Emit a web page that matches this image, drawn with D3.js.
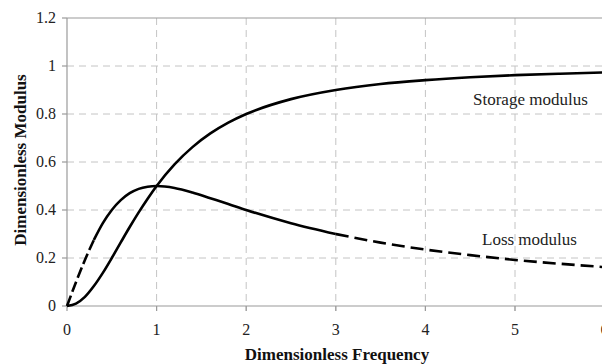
<!DOCTYPE html>
<html>
<head>
<meta charset="utf-8">
<script src="https://cdn.jsdelivr.net/npm/d3@7"></script>
<style>
  html, body { margin: 0; padding: 0; background: #fff; }
  svg { display: block; }
</style>
</head>
<body>
<svg id="chart" width="602" height="364"></svg>
<script>
// Dimensionless frequency samples and the two moduli read at each one
const frequency = [0, 0.1, 0.2, 0.3, 0.4, 0.5, 0.6, 0.7, 0.8, 0.9, 1, 1.2, 1.4, 1.6, 1.8, 2, 2.5, 3, 3.5, 4, 4.5, 5, 5.5, 6];
const storageModulus = [0, 0.01, 0.038, 0.083, 0.138, 0.2, 0.265, 0.329, 0.39, 0.447, 0.5, 0.59, 0.662, 0.719, 0.764, 0.8, 0.862, 0.9, 0.925, 0.941, 0.953, 0.962, 0.968, 0.973];
const lossModulus = [0, 0.099, 0.192, 0.275, 0.345, 0.4, 0.441, 0.47, 0.488, 0.497, 0.5, 0.492, 0.473, 0.449, 0.425, 0.4, 0.345, 0.3, 0.264, 0.235, 0.212, 0.192, 0.176, 0.162];

const xTicks = [0, 1, 2, 3, 4, 5, 6];
const yTicks = [0, 0.2, 0.4, 0.6, 0.8, 1, 1.2];
const yTickLabels = ["0", "0.2", "0.4", "0.6", "0.8", "1", "1.2"];

const svg = d3.select("#chart");
const plotLeft = 67, plotTop = 18, plotBottom = 306;
const x = d3.scaleLinear().domain([0, 6]).range([plotLeft, 604.6]);
const y = d3.scaleLinear().domain([0, 1.2]).range([plotBottom, plotTop]);

const serif = "Liberation Serif, Times New Roman, serif";
const gridColor = "#c4c4c4";
const axisColor = "#9a9a9a";

// dashed grid lines
svg.append("g").selectAll("line").data(yTicks.filter(v => v > 0 && v < 1.2)).join("line")
  .attr("x1", plotLeft).attr("x2", 602)
  .attr("y1", d => y(d)).attr("y2", d => y(d))
  .attr("stroke", gridColor).attr("stroke-width", 1).attr("stroke-dasharray", "7,5");
svg.append("g").selectAll("line").data(xTicks.filter(v => v > 0)).join("line")
  .attr("x1", d => x(d)).attr("x2", d => x(d))
  .attr("y1", plotTop).attr("y2", plotBottom + 5)
  .attr("stroke", gridColor).attr("stroke-width", 1).attr("stroke-dasharray", "7,5");

// frame: top border, left and bottom axes
svg.append("line").attr("x1", plotLeft).attr("x2", 602).attr("y1", plotTop).attr("y2", plotTop)
  .attr("stroke", axisColor).attr("stroke-width", 1.2);
svg.append("line").attr("x1", plotLeft).attr("x2", plotLeft).attr("y1", plotTop).attr("y2", plotBottom)
  .attr("stroke", axisColor).attr("stroke-width", 1.2);
svg.append("line").attr("x1", plotLeft).attr("x2", 602).attr("y1", plotBottom).attr("y2", plotBottom)
  .attr("stroke", axisColor).attr("stroke-width", 1.2);

// y tick marks and labels
svg.append("g").selectAll("line").data(yTicks).join("line")
  .attr("x1", plotLeft - 5).attr("x2", plotLeft)
  .attr("y1", d => y(d)).attr("y2", d => y(d))
  .attr("stroke", axisColor).attr("stroke-width", 1.2);
svg.append("g").selectAll("text").data(yTicks).join("text")
  .attr("x", 56).attr("y", d => y(d) + 5)
  .attr("text-anchor", "end")
  .style("font-family", serif).style("font-size", "16px").attr("fill", "#222")
  .text((d, i) => yTickLabels[i]);

// x tick marks and labels (the last one runs off the right edge)
svg.append("g").selectAll("line").data(xTicks).join("line")
  .attr("x1", d => x(d)).attr("x2", d => x(d))
  .attr("y1", plotBottom).attr("y2", plotBottom + 5)
  .attr("stroke", axisColor).attr("stroke-width", 1.2);
svg.append("g").selectAll("text").data(xTicks).join("text")
  .attr("x", d => x(d)).attr("y", 335)
  .attr("text-anchor", "middle")
  .style("font-family", serif).style("font-size", "16px").attr("fill", "#222")
  .text(d => d);

// axis titles
svg.append("text").attr("x", 337).attr("y", 360)
  .attr("text-anchor", "middle")
  .style("font-family", serif).style("font-size", "17px").style("font-weight", "bold").attr("fill", "#111")
  .text("Dimensionless Frequency");
svg.append("text").attr("transform", "translate(26,160) rotate(-90)")
  .attr("text-anchor", "middle")
  .style("font-family", serif).style("font-size", "17px").style("font-weight", "bold").attr("fill", "#111")
  .text("Dimensionless Modulus");

// curves
const plot = svg.append("g");
const line = d3.line().x(d => x(d[0])).y(d => y(d[1])).curve(d3.curveMonotoneX);
const storagePts = frequency.map((f, i) => [f, storageModulus[i]]);
const lossPts = frequency.map((f, i) => [f, lossModulus[i]]);

plot.append("path").attr("d", line(storagePts))
  .attr("fill", "none").attr("stroke", "#000").attr("stroke-width", 2.6);

// loss modulus: dashed at low frequency, solid mid range, dashed at high frequency
const segments = [
  { from: 0, to: 0.3, dash: "11,4" },
  { from: 0.3, to: 3, dash: null },
  { from: 3, to: 6, dash: "13,6" }
];
segments.forEach(s => {
  const pts = lossPts.filter(p => p[0] >= s.from && p[0] <= s.to);
  plot.append("path").attr("d", line(pts))
    .attr("fill", "none").attr("stroke", "#000").attr("stroke-width", 2.6)
    .attr("stroke-dasharray", s.dash);
});

// curve labels
svg.append("text").attr("x", 473).attr("y", 105)
  .style("font-family", serif).style("font-size", "17px").attr("fill", "#222")
  .text("Storage modulus");
svg.append("text").attr("x", 482).attr("y", 245)
  .style("font-family", serif).style("font-size", "17px").attr("fill", "#222")
  .text("Loss modulus");
</script>
</body>
</html>
